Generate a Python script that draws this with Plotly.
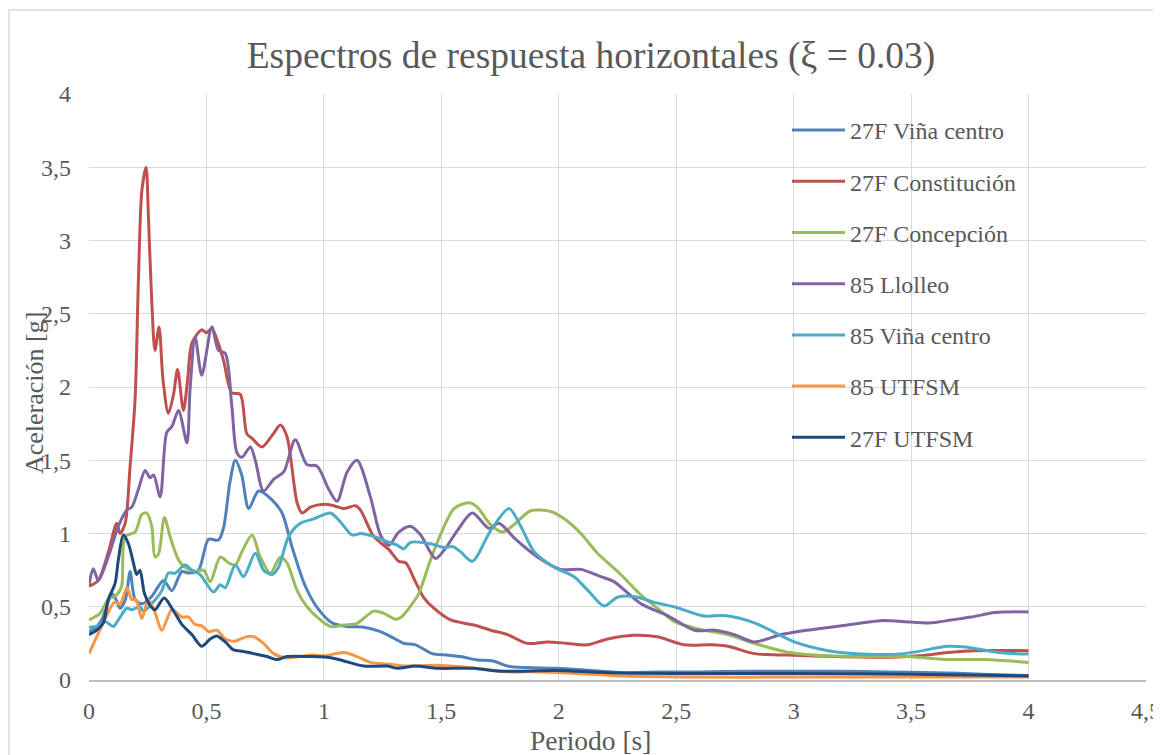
import plotly.graph_objects as go

# ---------------- data (periodo [s], aceleración [g]) ----------------
x_vina27 = [0, 0.03, 0.054, 0.075, 0.097, 0.115, 0.132, 0.155, 0.175, 0.196, 0.225, 0.267, 0.317, 0.353, 0.395, 0.424, 0.466, 0.509, 0.551, 0.573, 0.60, 0.623, 0.65, 0.68, 0.722, 0.779, 0.822, 0.864, 0.921, 0.978, 1.035, 1.1, 1.17, 1.241, 1.298, 1.34, 1.39, 1.461, 1.525, 1.582, 1.653, 1.72, 1.781, 1.866, 1.99, 2.137, 2.28, 2.42, 2.6, 2.8, 3.0, 3.2, 3.4, 3.6, 3.8, 4.0]
y_vina27 = [0.33, 0.36, 0.41, 0.50, 0.59, 0.55, 0.49, 0.55, 0.74, 0.55, 0.52, 0.57, 0.68, 0.61, 0.74, 0.73, 0.75, 0.96, 0.955, 1.04, 1.35, 1.50, 1.40, 1.17, 1.29, 1.23, 1.14, 0.91, 0.64, 0.48, 0.39, 0.365, 0.36, 0.33, 0.285, 0.25, 0.24, 0.18, 0.17, 0.16, 0.137, 0.13, 0.095, 0.085, 0.08, 0.065, 0.05, 0.055, 0.055, 0.06, 0.06, 0.06, 0.055, 0.05, 0.04, 0.03]

x_const27 = [0, 0.04, 0.082, 0.118, 0.132, 0.154, 0.175, 0.196, 0.21, 0.225, 0.243, 0.253, 0.267, 0.281, 0.298, 0.315, 0.338, 0.36, 0.377, 0.402, 0.42, 0.438, 0.48, 0.50, 0.523, 0.55, 0.573, 0.608, 0.644, 0.672, 0.694, 0.736, 0.78, 0.815, 0.843, 0.886, 0.907, 0.943, 0.999, 1.042, 1.085, 1.134, 1.156, 1.212, 1.277, 1.319, 1.348, 1.39, 1.426, 1.468, 1.539, 1.639, 1.71, 1.781, 1.866, 1.952, 2.037, 2.122, 2.208, 2.32, 2.42, 2.534, 2.648, 2.72, 2.833, 2.975, 3.174, 3.416, 3.53, 3.67, 3.77, 4.0]
y_const27 = [0.64, 0.68, 0.87, 1.07, 1.0, 1.07, 1.46, 1.91, 2.71, 3.34, 3.5, 3.16, 2.59, 2.25, 2.41, 2.05, 1.82, 1.95, 2.12, 1.84, 2.05, 2.30, 2.39, 2.37, 2.40, 2.30, 2.18, 1.96, 1.95, 1.68, 1.65, 1.59, 1.67, 1.74, 1.66, 1.21, 1.14, 1.18, 1.20, 1.19, 1.17, 1.19, 1.16, 0.98, 0.89, 0.81, 0.80, 0.67, 0.56, 0.49, 0.41, 0.375, 0.34, 0.31, 0.25, 0.26, 0.25, 0.24, 0.28, 0.305, 0.295, 0.24, 0.24, 0.23, 0.18, 0.17, 0.16, 0.155, 0.165, 0.19, 0.20, 0.20]

x_conc27 = [0, 0.047, 0.082, 0.118, 0.139, 0.154, 0.196, 0.225, 0.246, 0.267, 0.281, 0.296, 0.321, 0.345, 0.381, 0.409, 0.452, 0.488, 0.516, 0.559, 0.594, 0.623, 0.651, 0.694, 0.729, 0.772, 0.815, 0.843, 0.886, 0.928, 0.985, 1.028, 1.085, 1.141, 1.212, 1.255, 1.305, 1.33, 1.376, 1.404, 1.454, 1.504, 1.554, 1.617, 1.653, 1.71, 1.76, 1.809, 1.88, 1.966, 2.023, 2.094, 2.165, 2.264, 2.35, 2.42, 2.49, 2.59, 2.72, 2.833, 2.975, 3.146, 3.316, 3.487, 3.643, 3.814, 4.0]
y_conc27 = [0.41, 0.455, 0.55, 0.58, 0.64, 0.98, 1.01, 1.13, 1.14, 1.05, 0.84, 0.86, 1.11, 0.98, 0.82, 0.77, 0.74, 0.75, 0.67, 0.84, 0.80, 0.785, 0.875, 0.99, 0.84, 0.73, 0.84, 0.80, 0.61, 0.50, 0.41, 0.365, 0.375, 0.387, 0.47, 0.455, 0.415, 0.43, 0.52, 0.59, 0.82, 1.02, 1.17, 1.21, 1.18, 1.06, 1.01, 1.06, 1.155, 1.15, 1.10, 1.0, 0.865, 0.72, 0.58, 0.49, 0.40, 0.35, 0.31, 0.25, 0.19, 0.165, 0.16, 0.16, 0.14, 0.14, 0.12]

x_llolleo85 = [0, 0.018, 0.04, 0.082, 0.125, 0.161, 0.182, 0.21, 0.239, 0.26, 0.275, 0.303, 0.331, 0.353, 0.381, 0.417, 0.43, 0.452, 0.48, 0.523, 0.551, 0.58, 0.608, 0.63, 0.651, 0.687, 0.708, 0.743, 0.786, 0.829, 0.878, 0.928, 0.971, 1.021, 1.056, 1.099, 1.141, 1.198, 1.241, 1.277, 1.319, 1.369, 1.412, 1.475, 1.518, 1.568, 1.632, 1.703, 1.745, 1.817, 1.909, 2.008, 2.094, 2.179, 2.236, 2.35, 2.463, 2.577, 2.662, 2.748, 2.833, 2.947, 3.06, 3.203, 3.373, 3.458, 3.586, 3.672, 3.757, 3.856, 4.0]
y_llolleo85 = [0.65, 0.76, 0.68, 0.84, 1.05, 1.16, 1.18, 1.30, 1.43, 1.38, 1.40, 1.25, 1.69, 1.73, 1.84, 1.62, 1.98, 2.34, 2.08, 2.41, 2.25, 2.23, 1.87, 1.55, 1.52, 1.59, 1.50, 1.29, 1.37, 1.42, 1.64, 1.47, 1.46, 1.30, 1.22, 1.42, 1.50, 1.25, 0.99, 0.92, 1.01, 1.05, 0.99, 0.83, 0.90, 1.02, 1.14, 1.035, 1.07, 0.96, 0.84, 0.755, 0.755, 0.705, 0.67, 0.52, 0.44, 0.34, 0.34, 0.31, 0.26, 0.31, 0.34, 0.37, 0.405, 0.40, 0.39, 0.41, 0.43, 0.46, 0.465]

x_vina85 = [0, 0.04, 0.068, 0.104, 0.125, 0.161, 0.182, 0.217, 0.232, 0.267, 0.31, 0.338, 0.367, 0.409, 0.438, 0.473, 0.53, 0.559, 0.58, 0.623, 0.658, 0.708, 0.743, 0.779, 0.807, 0.85, 0.90, 0.957, 1.028, 1.07, 1.12, 1.156, 1.212, 1.27, 1.312, 1.34, 1.369, 1.454, 1.511, 1.55, 1.582, 1.632, 1.71, 1.788, 1.838, 1.895, 1.98, 2.065, 2.122, 2.193, 2.25, 2.32, 2.406, 2.49, 2.62, 2.705, 2.833, 3.003, 3.146, 3.316, 3.47, 3.657, 3.73, 3.885, 4.0]
y_vina85 = [0.36, 0.37, 0.40, 0.365, 0.41, 0.49, 0.48, 0.50, 0.47, 0.52, 0.61, 0.73, 0.73, 0.785, 0.75, 0.72, 0.60, 0.65, 0.63, 0.785, 0.705, 0.865, 0.75, 0.72, 0.77, 0.98, 1.07, 1.10, 1.14, 1.08, 0.99, 1.0, 0.98, 0.945, 0.92, 0.895, 0.94, 0.93, 0.905, 0.91, 0.875, 0.81, 1.02, 1.17, 1.05, 0.875, 0.77, 0.705, 0.615, 0.505, 0.565, 0.57, 0.53, 0.50, 0.437, 0.44, 0.39, 0.26, 0.20, 0.175, 0.18, 0.23, 0.225, 0.186, 0.177]

x_utfsm85 = [0, 0.04, 0.072, 0.108, 0.132, 0.161, 0.182, 0.2, 0.225, 0.253, 0.281, 0.31, 0.353, 0.395, 0.424, 0.45, 0.48, 0.51, 0.544, 0.58, 0.62, 0.672, 0.70, 0.743, 0.786, 0.843, 0.9, 0.95, 1.0, 1.085, 1.141, 1.198, 1.283, 1.35, 1.483, 1.582, 1.639, 1.78, 1.92, 2.14, 2.28, 2.6, 3.0, 3.5, 4.0]
y_utfsm85 = [0.18, 0.32, 0.43, 0.53, 0.52, 0.63, 0.55, 0.55, 0.42, 0.55, 0.46, 0.34, 0.48, 0.43, 0.43, 0.38, 0.37, 0.33, 0.34, 0.28, 0.265, 0.296, 0.296, 0.25, 0.18, 0.15, 0.16, 0.17, 0.165, 0.187, 0.16, 0.12, 0.107, 0.095, 0.10, 0.09, 0.08, 0.057, 0.055, 0.04, 0.027, 0.02, 0.02, 0.02, 0.02]

x_utfsm27 = [0, 0.033, 0.061, 0.082, 0.111, 0.125, 0.146, 0.168, 0.189, 0.203, 0.217, 0.236, 0.26, 0.281, 0.32, 0.353, 0.395, 0.438, 0.48, 0.516, 0.544, 0.58, 0.616, 0.658, 0.70, 0.758, 0.80, 0.843, 0.943, 1.014, 1.07, 1.17, 1.27, 1.31, 1.39, 1.483, 1.58, 1.64, 1.75, 1.99, 2.21, 2.56, 3.0, 3.5, 4.0]
y_utfsm27 = [0.31, 0.34, 0.39, 0.55, 0.66, 0.82, 0.99, 0.93, 0.80, 0.72, 0.75, 0.59, 0.51, 0.48, 0.56, 0.49, 0.38, 0.31, 0.23, 0.28, 0.30, 0.26, 0.205, 0.195, 0.18, 0.16, 0.14, 0.16, 0.16, 0.155, 0.137, 0.095, 0.095, 0.08, 0.095, 0.08, 0.08, 0.08, 0.06, 0.065, 0.05, 0.045, 0.045, 0.04, 0.027]

series_names = ["27F Viña centro", "27F Constitución", "27F Concepción", "85 Llolleo",
                "85 Viña centro", "85 UTFSM", "27F UTFSM"]
series_x = [x_vina27, x_const27, x_conc27, x_llolleo85, x_vina85, x_utfsm85, x_utfsm27]
series_y = [y_vina27, y_const27, y_conc27, y_llolleo85, y_vina85, y_utfsm85, y_utfsm27]
series_colors = ["#4F81BD", "#C0504D", "#9BBB59", "#8064A2", "#4BACC6", "#F79646", "#1F497D"]

x_ticks = [0, 0.5, 1, 1.5, 2, 2.5, 3, 3.5, 4, 4.5]
y_ticks = [0, 0.5, 1, 1.5, 2, 2.5, 3, 3.5, 4]

FONT = "Liberation Serif"
TXT = "#595959"

fig = go.Figure()
for i, (name, xs, ys, col) in enumerate(zip(series_names, series_x, series_y, series_colors)):
    fig.add_trace(go.Scatter(
        x=xs, y=ys, name=name, mode="lines",
        line=dict(color=col, width=3, shape="spline", smoothing=0.8),
        legendgroup=f"g{i}",
    ))

# The page body adds an 8 px offset; target plot area on the page: x 89..1146, y 94..680
OFF = 8
W, H = 1161 - OFF, 755 - OFF
L, R, T, B = 89 - OFF, 15, 94 - OFF, 75
pw, ph = W - L - R, H - T - B

def px2paper_x(px):
    return (px - OFF - L) / pw

def py2paper_y(py):
    return (H - B - (py - OFF)) / ph

fig.update_layout(
    width=W, height=H,
    margin=dict(l=L, r=R, t=T, b=B, autoexpand=False),
    paper_bgcolor="white", plot_bgcolor="white",
    separators=",.",
    font=dict(family=FONT, color=TXT, size=24),
    title=dict(text="Espectros de respuesta horizontales (ξ = 0.03)",
               x=(591 - OFF) / W, xanchor="center", y=1 - (55 - OFF) / H, yanchor="middle",
               font=dict(family=FONT, size=37.5, color=TXT)),
    xaxis=dict(range=[0, 4.5], tickvals=x_ticks, showgrid=True, gridcolor="#D9D9D9", gridwidth=1.3,
               zeroline=False, showline=True, linecolor="#BFBFBF", linewidth=1.5, automargin=False,
               ticks="", ticklabelstandoff=8, tickfont=dict(size=24, color=TXT, family=FONT)),
    yaxis=dict(range=[0, 4], tickvals=y_ticks, showgrid=True, gridcolor="#D9D9D9", gridwidth=1.3,
               zeroline=False, showline=False, automargin=False,
               ticks="", ticklabelstandoff=17, tickfont=dict(size=24, color=TXT, family=FONT)),
    legend=dict(x=px2paper_x(787), xanchor="left", y=py2paper_y(108), yanchor="top",
                bgcolor="rgba(0,0,0,0)", font=dict(family=FONT, size=24, color=TXT),
                tracegroupgap=17, itemwidth=53, traceorder="grouped"),
    showlegend=True,
)

fig.add_annotation(text="Periodo [s]", x=px2paper_x(590), y=py2paper_y(740), xref="paper", yref="paper",
                   showarrow=False, xanchor="center", yanchor="middle",
                   font=dict(family=FONT, size=27.5, color=TXT))
fig.add_annotation(text="Aceleración [g]", x=px2paper_x(35), y=py2paper_y(393), xref="paper", yref="paper",
                   showarrow=False, xanchor="center", yanchor="middle", textangle=-90,
                   font=dict(family=FONT, size=26, color=TXT))

# chart-area border
fig.add_shape(type="rect", xref="paper", yref="paper",
              x0=px2paper_x(9), x1=px2paper_x(1156), y0=py2paper_y(790), y1=py2paper_y(10),
              line=dict(color="#D9D9D9", width=1.5), fillcolor="rgba(0,0,0,0)", layer="below")

fig.write_html("out.html")
